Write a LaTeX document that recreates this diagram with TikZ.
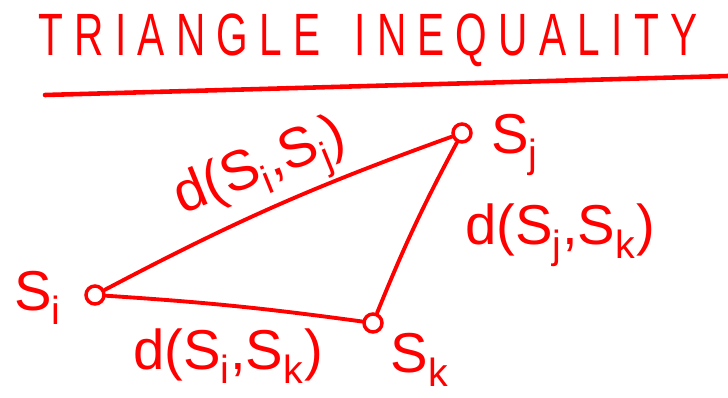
\documentclass[tikz,border=0pt]{standalone}
\usepackage{fontspec}
\setsansfont{Liberation Sans}
\usetikzlibrary{positioning}
\newcommand{\sub}[1]{\textsubscript{#1}}

\begin{document}
\begin{tikzpicture}[x=0.02cm, y=-0.02cm,
  pt/.style={draw=red, line width=2pt, circle, minimum size=0.36cm, inner sep=0pt},
  edge/.style={red, line width=2.2pt, line cap=round},
  lbl/.style={red, font=\sffamily\fontsize{32}{36}\selectfont}]
\useasboundingbox (0,0) rectangle (728,398);
% title
\node[red, font=\sffamily\fontsize{34}{40}\selectfont, xscale=0.68] (title) at (368,40) {T R I A N G L E \ \ I N E Q U A L I T Y};
\coordinate (ulA) at (45,95);
\coordinate (ulB) at (728,76);
\draw[edge, line width=2.6pt] (ulA) -- (ulB);
% points
\node[pt] (si) at (95,295) {};
\node[pt] (sj) at (462,133) {};
\node[pt] (sk) at (373,323) {};
\node[lbl] (lsi) at (38,298) {S\sub{i}};
\node[lbl] (lsj) at (515,145) {S\sub{j}};
\node[lbl] (lsk) at (420,360) {S\sub{k}};
% sides
\draw[edge] (si) to[bend left=4] (sj);
\draw[edge] (si) to[bend left=2] (sk);
\draw[edge] (sj) to[bend right=3] (sk);
\node[lbl, rotate=22] (dij) at (262,172) {d(S\sub{i},S\sub{j})};
\node[lbl] (dik) at (228,356) {d(S\sub{i},S\sub{k})};
\node[lbl] (djk) at (560,235) {d(S\sub{j},S\sub{k})};
\end{tikzpicture}
\end{document}
